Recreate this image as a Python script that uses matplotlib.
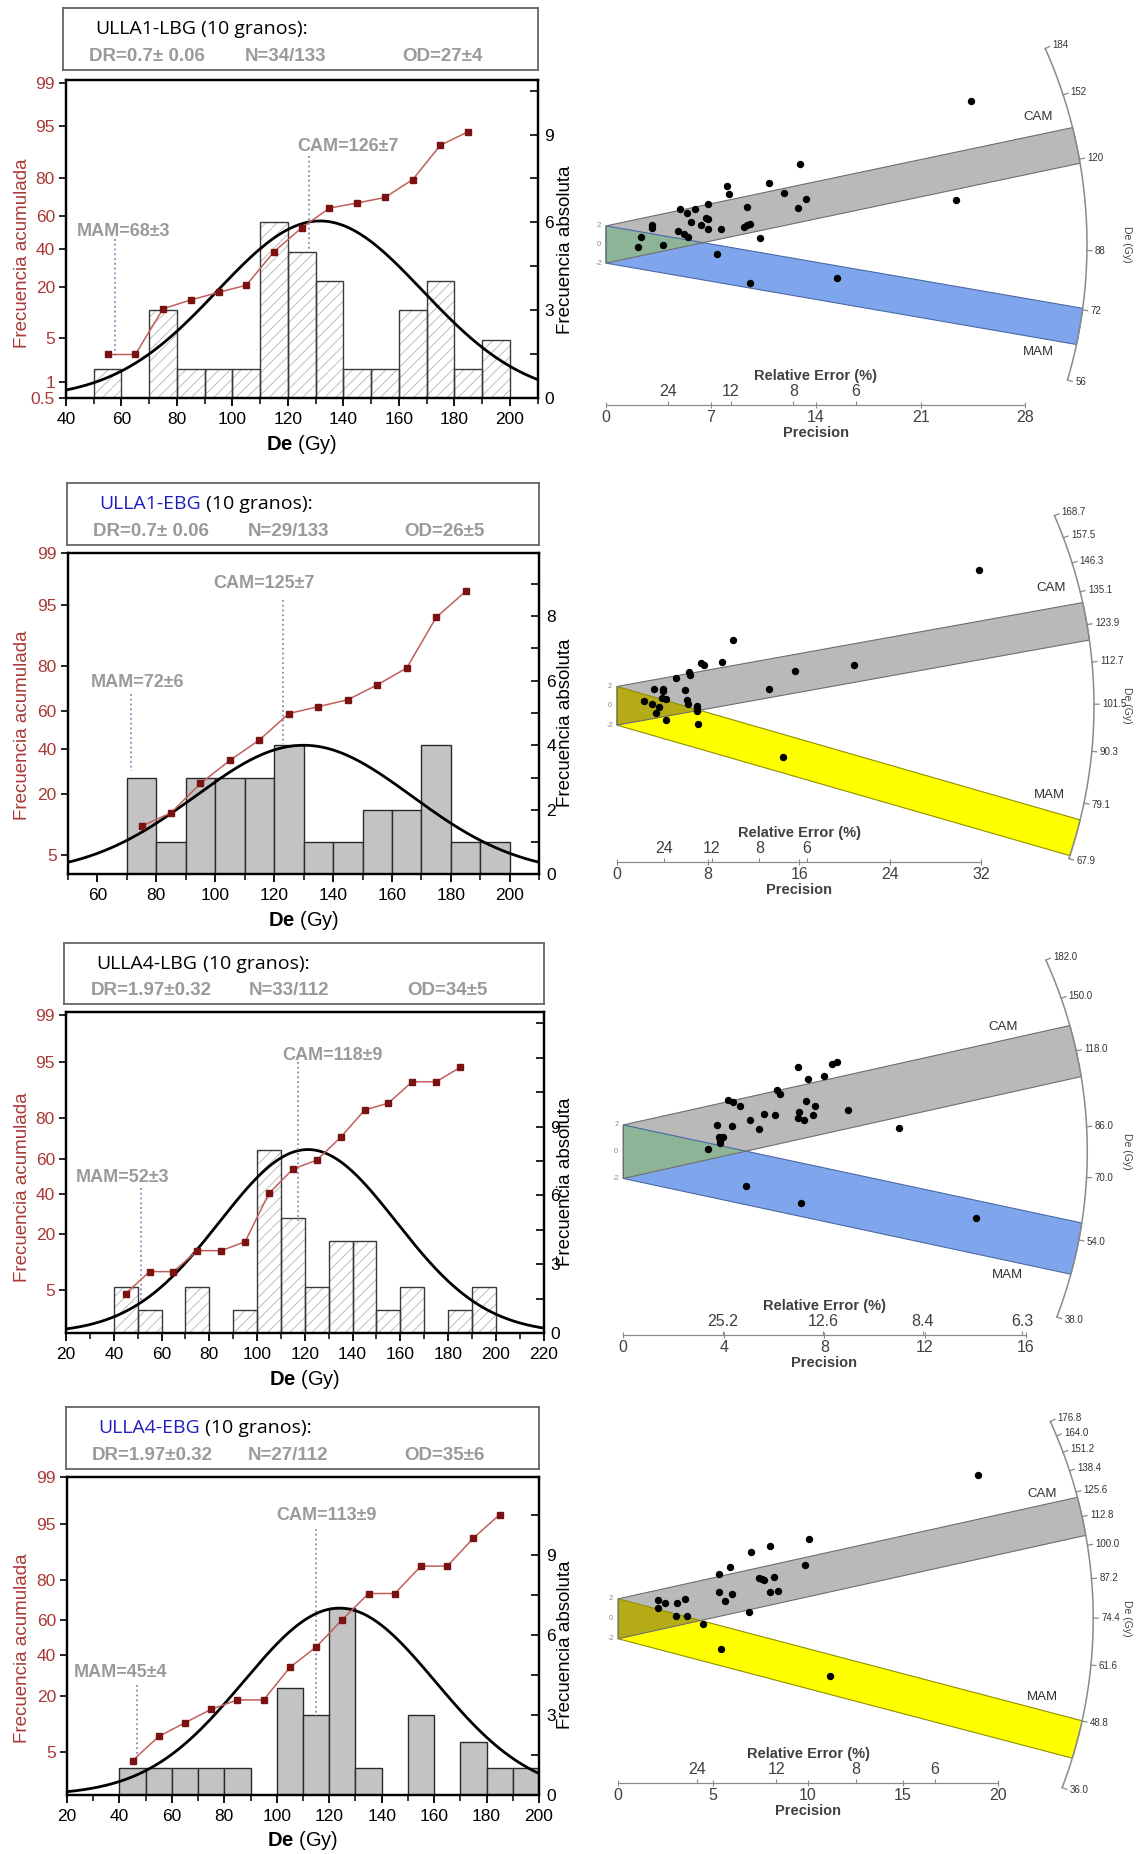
import math
import numpy as np
import matplotlib
matplotlib.use('Agg')
import matplotlib.pyplot as plt
from matplotlib.ticker import MultipleLocator, FuncFormatter, NullLocator

plt.rcParams['font.family'] = ['Liberation Sans', 'DejaVu Sans']
plt.rcParams['mathtext.fontset'] = 'custom'
plt.rcParams['mathtext.rm'] = 'Liberation Sans'
plt.rcParams['mathtext.bf'] = 'Liberation Sans:bold'
plt.rcParams['hatch.linewidth'] = 0.6

# ---------------- data ----------------
names = ['ULLA1-LBG', 'ULLA1-EBG', 'ULLA4-LBG', 'ULLA4-EBG']
name_blue = [False, True, False, True]
dr_txt = ['DR=0.7\u00b1 0.06', 'DR=0.7\u00b1 0.06', 'DR=1.97\u00b10.32', 'DR=1.97\u00b10.32']
n_txt = ['N=34/133', 'N=29/133', 'N=33/112', 'N=27/112']
od_txt = ['OD=27\u00b14', 'OD=26\u00b15', 'OD=34\u00b15', 'OD=35\u00b16']
cam_vals = [126, 125, 118, 113]
cam_err = [7, 7, 9, 9]
mam_vals = [68, 72, 52, 45]
mam_err = [3, 6, 3, 4]

# histograms (10 Gy bins, left edges)
bins_1 = [50, 60, 70, 80, 90, 100, 110, 120, 130, 140, 150, 160, 170, 180, 190]
counts_1 = [1, 0, 3, 1, 1, 1, 6, 5, 4, 1, 1, 3, 4, 1, 2]
bins_2 = [70, 80, 90, 100, 110, 120, 130, 140, 150, 160, 170, 180, 190]
counts_2 = [3, 1, 3, 3, 3, 4, 1, 1, 2, 2, 4, 1, 1]
bins_3 = [40, 50, 60, 70, 80, 90, 100, 110, 120, 130, 140, 150, 160, 170, 180, 190]
counts_3 = [2, 1, 0, 2, 0, 1, 8, 5, 2, 4, 4, 1, 2, 0, 1, 2]
bins_4 = [40, 50, 60, 70, 80, 90, 100, 110, 120, 130, 140, 150, 160, 170, 180, 190]
counts_4 = [1, 1, 1, 1, 1, 0, 4, 3, 7, 1, 0, 3, 0, 2, 1, 1]

# cumulative frequency (%)
cum_x_1 = [55, 65, 75, 85, 95, 105, 115, 125, 135, 145, 155, 165, 175, 185]
cum_1 = [2.9, 2.9, 11.8, 14.7, 17.6, 20.6, 38.2, 52.9, 64.7, 67.6, 70.6, 79.4, 91.2, 94.1]
cum_x_2 = [75, 85, 95, 105, 115, 125, 135, 145, 155, 165, 175, 185]
cum_2 = [10.3, 13.8, 24.1, 34.5, 44.8, 58.6, 62.1, 65.5, 72.4, 79.3, 93.1, 96.6]
cum_x_3 = [45, 55, 65, 75, 85, 95, 105, 115, 125, 135, 145, 155, 165, 175, 185]
cum_3 = [4.5, 8.4, 8.4, 14.1, 14.1, 17.2, 40.2, 54.1, 59.2, 71.3, 83.0, 85.5, 91.4, 91.4, 94.2]
cum_x_4 = [45, 55, 65, 75, 85, 95, 105, 115, 125, 135, 145, 155, 165, 175, 185]
cum_4 = [3.8, 7.7, 11.0, 15.1, 18.5, 18.5, 33.5, 44.8, 60.5, 74.0, 74.0, 85.1, 85.1, 92.6, 96.3]

# fitted gaussian: mean, sd, peak (counts)
gauss_1 = (131.6, 37.0, 6.05)
gauss_2 = (130.0, 36.7, 4.0)
gauss_3 = (121.3, 37.0, 8.0)
gauss_4 = (123.9, 36.6, 7.0)

# radial plots: precision and standardised estimate of each grain
prec_1 = [24.37, 12.92, 8.06, 8.23, 10.86, 11.89, 13.37, 12.83, 9.43, 6.81, 23.39, 4.96, 5.43,
          5.95, 5.65, 6.66, 6.78, 6.31, 6.83, 7.71, 9.21, 9.43, 9.61, 10.27, 3.07, 3.07, 4.82,
          5.21, 5.45, 2.36, 2.11, 3.78, 7.44, 9.63, 15.41]
std_1 = [15.42, 8.65, 6.28, 5.43, 6.57, 5.54, 4.87, 3.95, 4.05, 4.37, 4.73, 3.84, 3.42,
         3.77, 2.42, 2.88, 2.74, 2.04, 1.61, 1.68, 1.86, 2.04, 2.21, 0.65, 2.14, 1.79, 1.47,
         1.12, 0.76, 0.76, -0.30, -0.05, -0.97, -4.16, -3.59]
prec_2 = [31.74, 10.21, 9.21, 7.40, 7.60, 6.33, 6.43, 5.14, 15.61, 20.78, 13.35, 3.23, 4.01,
          4.07, 3.98, 4.30, 6.01, 6.14, 6.21, 7.01, 7.05, 6.98, 2.39, 3.10, 3.65, 3.43, 4.33,
          7.14, 14.54]
std_2 = [14.0, 6.8, 4.57, 4.43, 4.26, 3.50, 3.18, 2.83, 3.63, 4.23, 1.76, 1.76, 1.76,
         1.48, 0.85, 0.68, 1.62, 0.61, 0.16, -0.02, -0.30, -0.50, 0.54, 0.19, -0.09, -0.71,
         -1.48, -1.93, -5.30]
prec_3 = [6.93, 8.32, 8.51, 7.36, 7.98, 6.11, 6.24, 4.17, 4.38, 4.64, 7.28, 7.61, 6.99, 7.55,
          5.58, 6.02, 8.95, 5.05, 6.93, 7.17, 3.72, 4.32, 5.40, 10.95, 3.81, 3.97, 3.84, 3.84,
          3.35, 4.90, 7.06, 14.04, 3.89]
std_3 = [6.30, 6.55, 6.73, 5.43, 5.63, 4.58, 4.30, 3.88, 3.70, 3.38, 3.75, 3.38, 3.00, 2.73,
         2.85, 2.75, 3.13, 2.38, 2.50, 2.38, 2.00, 1.95, 1.70, 1.78, 1.13, 1.08, 0.88, 0.68,
         0.20, -2.58, -3.83, -4.93, 1.00]
prec_4 = [18.93, 10.04, 7.98, 7.00, 5.89, 5.33, 9.83, 7.44, 7.56, 7.69, 8.18, 8.43, 7.98, 5.33,
          6.01, 5.62, 6.88, 2.07, 2.44, 2.07, 3.12, 3.51, 3.06, 3.60, 4.44, 5.39, 11.16]
std_4 = [14.41, 8.02, 7.33, 6.72, 5.18, 4.46, 5.35, 4.09, 3.98, 3.85, 4.22, 2.79, 2.65, 2.65,
         2.51, 1.79, 0.67, 1.93, 1.59, 1.08, 1.59, 2.00, 0.32, 0.32, -0.56, -3.06, -5.73]

# radial axis ticks
arc_ticks_1 = [56, 72, 88, 120, 152, 184]
arc_ticks_2 = [67.9, 79.1, 90.3, 101.5, 112.7, 123.9, 135.1, 146.3, 157.5, 168.7]
arc_ticks_3 = [38.0, 54.0, 70.0, 86.0, 118.0, 150.0, 182.0]
arc_ticks_4 = [36.0, 48.8, 61.6, 74.4, 87.2, 100.0, 112.8, 125.6, 138.4, 151.2, 164.0, 176.8]
re_ticks_1 = [24, 12, 8, 6]
re_ticks_2 = [24, 12, 8, 6]
re_ticks_3 = [25.2, 12.6, 8.4, 6.3]
re_ticks_4 = [24, 12, 8, 6]
ref_de = [89.8, 101.1, 77.7, 74.2]      # De of the horizontal radial line

# ---------------- layout ----------------
W, H = 1137, 1854
fig = plt.figure(figsize=(W / 100, H / 100), dpi=100)


def frac(x, y, w, h):
    return [x / W, 1 - (y + h) / H, w / W, h / H]


def _ppf(q):
    a = [-3.969683028665376e+01, 2.209460984245205e+02, -2.759285104469687e+02,
         1.383577518672690e+02, -3.066479806614716e+01, 2.506628277459239e+00]
    b = [-5.447609879822406e+01, 1.615858368580409e+02, -1.556989798598866e+02,
         6.680131188771972e+01, -1.328068155288572e+01]
    c = [-7.784894002430293e-03, -3.223964580411365e-01, -2.400758277161838e+00,
         -2.549671010139191e+00, 4.374664141464968e+00, 2.938163982698783e+00]
    d = [7.784695709041462e-03, 3.224671290700398e-01, 2.445134137142996e+00,
         3.754408661907416e+00]
    if q < 0.02425:
        t = math.sqrt(-2 * math.log(q))
        return (((((c[0]*t+c[1])*t+c[2])*t+c[3])*t+c[4])*t+c[5]) / ((((d[0]*t+d[1])*t+d[2])*t+d[3])*t+1)
    if q > 1 - 0.02425:
        t = math.sqrt(-2 * math.log(1 - q))
        return -(((((c[0]*t+c[1])*t+c[2])*t+c[3])*t+c[4])*t+c[5]) / ((((d[0]*t+d[1])*t+d[2])*t+d[3])*t+1)
    s = q - 0.5
    r = s * s
    return (((((a[0]*r+a[1])*r+a[2])*r+a[3])*r+a[4])*r+a[5])*s / (((((b[0]*r+b[1])*r+b[2])*r+b[3])*r+b[4])*r+1)


_ppf_v = np.vectorize(_ppf, otypes=[float])
_erf_v = np.vectorize(math.erf, otypes=[float])


def prob_fwd(p):
    p = np.clip(np.asarray(p, dtype=float), 1e-4, 100 - 1e-4)
    return _ppf_v(p / 100.0)


def prob_inv(z):
    return 50.0 * (1 + _erf_v(np.asarray(z, dtype=float) / math.sqrt(2)))


RED = '#a83a36'
GREY_TXT = '#9a9a9a'

rows = [
    dict(bins=bins_1, counts=counts_1, cx=cum_x_1, cy=cum_1, g=gauss_1, hatched=True,
         box=(66, 80, 471.5, 318.3), head=(62.5, 8.3, 475, 61.7), xlim=(40, 210),
         ytop=10.86, rstep=1.5, rlab=3, plim=(0.5, 99.1), pticks=[0.5, 1, 5, 20, 40, 60, 80, 95, 99],
         mam_lab=(60.9, 5.7), mam_line=(57.7, 5.43, 1.41), cam_lab=(141.5, 8.6), cam_line=(127.7, 8.26, 5.03),
         ylab_y=(253, 250),
         prec=prec_1, std=std_1, arc=arc_ticks_1, re=re_ticks_1, pmax=28, pstep=7,
         rtop=0, rbot=465, ox=606, oy=244.5, sx=14.98, ratio=0.622, R=481, line=405,
         camtxt=(1038.5, 116.7), mamtxt=(1038.5, 351.7), mamc='#7fa6ec', mame='#4a68a8', ovc='#8db497'),
    dict(bins=bins_2, counts=counts_2, cx=cum_x_2, cy=cum_2, g=gauss_2, hatched=False,
         box=(67.9, 553.3, 471.4, 321), head=(67, 482.7, 472, 62.3), xlim=(50, 210),
         ytop=9.95, rstep=1, rlab=2, plim=(2.88, 99.0), pticks=[5, 20, 40, 60, 80, 95, 99],
         mam_lab=(73.7, 5.96), mam_line=(71.5, 5.6, 3.2), cam_lab=(116.6, 9.0), cam_line=(123.0, 8.5, 4.04),
         ylab_y=(725, 723),
         prec=prec_2, std=std_2, arc=arc_ticks_2, re=re_ticks_2, pmax=32, pstep=8,
         rtop=465, rbot=925, ox=617, oy=705.8, sx=11.39, ratio=0.849, R=477, line=861.7,
         camtxt=(1051, 588.3), mamtxt=(1049.5, 795), mamc='#ffff00', mame='#8f8f00', ovc='#b4ab16'),
    dict(bins=bins_3, counts=counts_3, cx=cum_x_3, cy=cum_3, g=gauss_3, hatched=True,
         box=(66, 1011.7, 477.6, 321.6), head=(64, 942.7, 479.6, 61.3), xlim=(20, 220),
         ytop=14.0, rstep=1.5, rlab=3, plim=(1.16, 99.13), pticks=[5, 20, 40, 60, 80, 95, 99],
         mam_lab=(43.8, 6.77), mam_line=(51.3, 6.33, 1.38), cam_lab=(131.4, 12.1), cam_line=(117.0, 11.8, 4.9),
         ylab_y=(1187, 1182),
         prec=prec_3, std=std_3, arc=arc_ticks_3, re=re_ticks_3, pmax=16, pstep=4,
         rtop=925, rbot=1390, ox=623.3, oy=1151.7, sx=25.14, ratio=0.5326, R=464, line=1335,
         camtxt=(1003.5, 1026.7), mamtxt=(1007, 1275), mamc='#7fa6ec', mame='#4a68a8', ovc='#8db497'),
    dict(bins=bins_4, counts=counts_4, cx=cum_x_4, cy=cum_4, g=gauss_4, hatched=False,
         box=(67, 1477.3, 472, 317.7), head=(66, 1406.7, 473, 62.6), xlim=(20, 200),
         ytop=11.9, rstep=1.5, rlab=3, plim=(1.15, 98.95), pticks=[5, 20, 40, 60, 80, 95, 99],
         mam_lab=(40.3, 4.57), mam_line=(46.8, 4.13, 1.38), cam_lab=(119.0, 10.46), cam_line=(114.9, 9.96, 2.94),
         ylab_y=(1648, 1645),
         prec=prec_4, std=std_4, arc=arc_ticks_4, re=re_ticks_4, pmax=20, pstep=5,
         rtop=1390, rbot=1854, ox=618.2, oy=1618.8, sx=18.99, ratio=0.5258, R=475, line=1782.7,
         camtxt=(1042, 1494), mamtxt=(1042, 1696.7), mamc='#ffff00', mame='#8f8f00', ovc='#b4ab16'),
]

for i, r in enumerate(rows):
    # ---------- header box ----------
    hx = fig.add_axes(frac(*r['head']))
    hx.set_xticks([])
    hx.set_yticks([])
    for s in hx.spines.values():
        s.set_color('#666666')
        s.set_linewidth(1.3)
    t1 = hx.text(0.068, 0.66, names[i], transform=hx.transAxes, fontsize=14,
                 family=['Open Sans', 'DejaVu Sans'], va='center', ha='left',
                 color='#1f1fbf' if name_blue[i] else 'black')
    hx.annotate(' (10 granos):', xy=(1, 0), xycoords=t1, va='bottom', ha='left',
                fontsize=14, family=['Open Sans', 'DejaVu Sans'], color='black')
    for txt, xp, ha in [(dr_txt[i], 0.055, 'left'), (n_txt[i], 0.47, 'center'), (od_txt[i], 0.80, 'center')]:
        hx.text(xp, 0.22, txt, transform=hx.transAxes, fontsize=13.5, fontweight='bold',
                color=GREY_TXT, ha=ha, va='center')

    # ---------- histogram + cumulative ----------
    ax = fig.add_axes(frac(*r['box']))
    if r['hatched']:
        ax.bar(r['bins'], r['counts'], width=10, align='edge', facecolor='white',
               edgecolor='#b4b4b4', hatch='///', linewidth=0, zorder=1)
        ax.bar(r['bins'], r['counts'], width=10, align='edge', facecolor='none',
               edgecolor='#3a3a3a', linewidth=1.0, zorder=2)
    else:
        ax.bar(r['bins'], r['counts'], width=10, align='edge', facecolor='#c3c3c3',
               edgecolor='#2a2a2a', linewidth=1.0, zorder=2)
    mu, sd, pk = r['g']
    xs = np.linspace(r['xlim'][0], r['xlim'][1], 400)
    ax.plot(xs, pk * np.exp(-0.5 * ((xs - mu) / sd) ** 2), color='black', lw=2.0, zorder=3)

    mx, my0, my1 = r['mam_line']
    ax.plot([mx, mx], [my0, my1], ls=':', color='#7f8db8', lw=1.3, zorder=3)
    cx_, cy0, cy1 = r['cam_line']
    ax.plot([cx_, cx_], [cy0, cy1], ls=':', color='#7f8db8', lw=1.3, zorder=3)
    ax.text(*r['mam_lab'], f'MAM={mam_vals[i]}\u00b1{mam_err[i]}', ha='center', va='center',
            fontsize=13, fontweight='bold', color=GREY_TXT, zorder=5)
    ax.text(*r['cam_lab'], f'CAM={cam_vals[i]}\u00b1{cam_err[i]}', ha='center', va='center',
            fontsize=13, fontweight='bold', color=GREY_TXT, zorder=5)

    ax.set_xlim(*r['xlim'])
    ax.set_ylim(0, r['ytop'])
    ax.xaxis.set_major_locator(MultipleLocator(20))
    ax.xaxis.set_minor_locator(MultipleLocator(10))
    ax.tick_params(axis='x', which='major', direction='out', length=6, width=1.3, labelsize=12.5, pad=4)
    ax.tick_params(axis='x', which='minor', direction='out', length=4, width=1.1)
    ax.set_xlabel(r'$\mathbf{De}$ (Gy)', fontsize=14.5, labelpad=4)

    axc = ax.twinx()
    ax.yaxis.tick_right()
    ax.yaxis.set_major_locator(MultipleLocator(r['rstep']))
    lab = r['rlab']
    ax.yaxis.set_major_formatter(FuncFormatter(
        lambda v, _, lab=lab: f'{v:g}' if abs(v / lab - round(v / lab)) < 1e-6 and v < 9.5 else ''))
    ax.tick_params(axis='y', which='major', direction='in', length=6, width=1.2, labelsize=12.5, pad=5)

    axc.yaxis.tick_left()
    axc.set_yscale('function', functions=(prob_fwd, prob_inv))
    axc.set_ylim(*r['plim'])
    axc.set_yticks(r['pticks'])
    axc.set_yticklabels([f'{t:g}' for t in r['pticks']])
    axc.yaxis.set_minor_locator(NullLocator())
    axc.tick_params(axis='y', direction='out', length=5, width=1.2, labelsize=12.5,
                    labelcolor=RED, pad=3)
    axc.plot(r['cx'], r['cy'], color='#c0605c', lw=1.1, marker='s', ms=4,
             mfc='#7a1212', mec='#7a1212', zorder=4)
    for a in (ax, axc):
        for s in a.spines.values():
            s.set_linewidth(1.6)

    fig.text(23 / W, 1 - r['ylab_y'][0] / H, 'Frecuencia acumulada', rotation=90,
             ha='center', va='center', fontsize=13.5, color=RED)
    fig.text(566 / W, 1 - r['ylab_y'][1] / H, 'Frecuencia absoluta', rotation=90,
             ha='center', va='center', fontsize=13.5, color='black')

    # ---------- radial plot ----------
    ox, oy, sx, R = r['ox'], r['oy'], r['sx'], r['R']
    sy = r['ratio'] * sx
    z0 = math.log(ref_de[i])
    axr = fig.add_axes(frac(560, r['rtop'], W - 560, r['rbot'] - r['rtop']))
    axr.set_xlim((560 - ox) / sx, (W - ox) / sx)
    axr.set_ylim((oy - r['rbot']) / sy, (oy - r['rtop']) / sy)
    axr.axis('off')

    def band(de):
        a = math.log(de) - z0
        ends = []
        for c in (2, -2):
            A = sx ** 2 + (sy * a) ** 2
            B = 2 * sy ** 2 * a * c
            C = (sy * c) ** 2 - R ** 2
            x = (-B + math.sqrt(B * B - 4 * A * C)) / (2 * A)
            ends.append(math.atan2(sy * (c + a * x), sx * x))
        phi = np.linspace(ends[0], ends[1], 40)
        bx = np.concatenate([[0], R * np.cos(phi) / sx, [0]])
        by = np.concatenate([[2], R * np.sin(phi) / sy, [-2]])
        return bx, by, a

    mbx, mby, am = band(mam_vals[i])
    cbx, cby, ac = band(cam_vals[i])
    axr.fill(mbx, mby, facecolor=r['mamc'], edgecolor='none', zorder=1)
    axr.fill(cbx, cby, facecolor='#b9b9b9', edgecolor='none', zorder=2)
    xs_ = 4 / (ac - am)
    axr.fill([0, xs_, 0], [-2, -2 + ac * xs_, 2], facecolor=r['ovc'], edgecolor='none', zorder=3)
    axr.fill(mbx, mby, facecolor='none', edgecolor=r['mame'], lw=0.8, zorder=4)
    axr.fill(cbx, cby, facecolor='none', edgecolor='#6e6e6e', lw=0.8, zorder=4)
    axr.plot(r['prec'], r['std'], 'o', color='black', ms=4.3, zorder=6)

    # arc scale
    angs = [math.atan(r['ratio'] * (math.log(v) - z0)) for v in r['arc']]
    phi = np.linspace(min(angs), max(angs), 200)
    axr.plot(R * np.cos(phi) / sx, R * np.sin(phi) / sy, color='#8a8a8a', lw=1.1, zorder=5)
    for v, f in zip(r['arc'], angs):
        axr.plot([R * math.cos(f) / sx, (R + 5) * math.cos(f) / sx],
                 [R * math.sin(f) / sy, (R + 5) * math.sin(f) / sy], color='#8a8a8a', lw=0.9)
        lbl = f'{v:g}' if i == 0 else f'{v:.1f}'
        axr.text((R + 8) * math.cos(f) / sx, (R + 8) * math.sin(f) / sy, lbl, fontsize=7,
                 ha='left', va='center', color='#333333')
    axr.text((1127 - ox) / sx, 0, 'De (Gy)', rotation=-90, fontsize=7.5, ha='center', va='center',
             color='#444444')
    for v in (2, 0, -2):
        axr.text(-7 / sx, v, f'{v}', fontsize=5.5, ha='center', va='center', color='#8a8a8a')
    axr.text((r['camtxt'][0] - ox) / sx, (oy - r['camtxt'][1]) / sy, 'CAM', fontsize=9.5,
             ha='center', va='center', color='#333333')
    axr.text((r['mamtxt'][0] - ox) / sx, (oy - r['mamtxt'][1]) / sy, 'MAM', fontsize=9.5,
             ha='center', va='center', color='#333333')

    # precision / relative error axis
    axp = fig.add_axes([ox / W, 1 - r['line'] / H, r['pmax'] * sx / W, 1e-5])
    axp.patch.set_visible(False)
    axp.set_xlim(0, r['pmax'])
    axp.set_yticks([])
    for k in ('top', 'left', 'right'):
        axp.spines[k].set_visible(False)
    axp.spines['bottom'].set_color('#8a8a8a')
    axp.spines['bottom'].set_linewidth(0.9)
    axp.set_xticks(np.arange(0, r['pmax'] + 0.01, r['pstep']))
    axp.set_xticklabels([f'{v:g}' for v in np.arange(0, r['pmax'] + 0.01, r['pstep'])])
    axp.tick_params(axis='x', direction='inout', length=5, color='#8a8a8a', labelsize=11.5,
                    labelcolor='#404040', pad=1)
    axp.set_xlabel('Precision', fontsize=10.5, fontweight='bold', color='#404040', labelpad=1)
    axt = axp.twiny()
    axt.patch.set_visible(False)
    axt.set_xlim(0, r['pmax'])
    axt.set_xticks([100 / v for v in r['re']])
    axt.set_xticklabels([f'{v:g}' for v in r['re']])
    axt.tick_params(axis='x', direction='out', length=3, color='#8a8a8a', labelsize=11.5,
                    labelcolor='#404040', pad=1)
    for s in axt.spines.values():
        s.set_visible(False)
    axt.set_xlabel('Relative Error (%)', fontsize=10.5, fontweight='bold', color='#404040', labelpad=3)

fig.savefig('out.png', dpi=100)
